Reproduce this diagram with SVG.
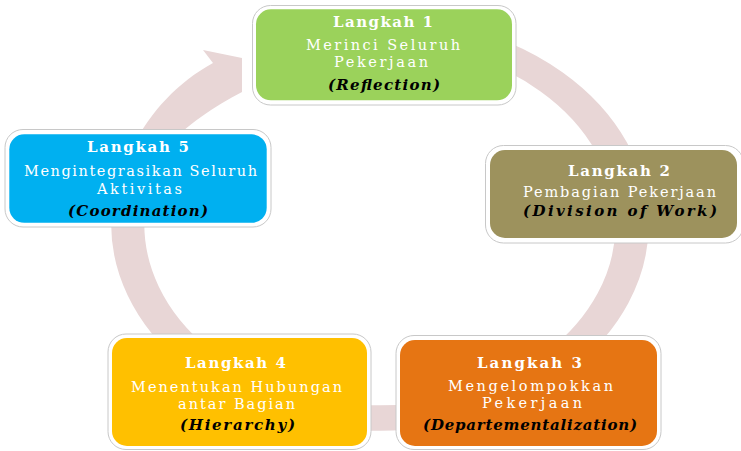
<svg xmlns="http://www.w3.org/2000/svg" width="741" height="451" viewBox="0 0 741 451">
  <style>
    .frame { fill: #ffffff; stroke: #c8c8c8; stroke-width: 1; }
    .head { font-family: "DejaVu Serif", "Liberation Serif", serif; font-weight: bold; font-size: 15px; fill: #ffffff; }
    .desc { font-family: "DejaVu Serif", "Liberation Serif", serif; font-size: 14.5px; fill: #ffffff; }
    .term { font-family: "DejaVu Serif", "Liberation Serif", serif; font-weight: bold; font-style: italic; font-size: 15px; fill: #000000; }
    .ring { fill: none; stroke: #e8d6d6; stroke-width: 25.5; }
  </style>
  <rect width="741" height="451" fill="#ffffff"/>

  <!-- circular arrow behind the steps -->
  <g id="connectors">
    <g transform="translate(380,224) scale(1.3,1)">
      <path class="ring" d="M 69.2 -181.2 A 194 194 0 1 1 -174.9 -84"/>
    </g>
    <path fill="#e8d6d6" d="M132,148 C150,112 178,82 213,63 L203,50 L242,58 L242,92 C215,106 185,126 166,148 Z"/>
  </g>

  <g id="step1">
    <rect class="frame" x="252.5" y="5.5" width="263.5" height="99.5" rx="18"/>
    <rect x="256" y="9.3" width="256" height="91" rx="15" fill="#9bd25b"/>
    <text class="head" x="333" y="26.5" textLength="100" lengthAdjust="spacing">Langkah 1</text>
    <text class="desc" x="306" y="49.5" textLength="154" lengthAdjust="spacing">Merinci  Seluruh</text>
    <text class="desc" x="334" y="67" textLength="94" lengthAdjust="spacing">Pekerjaan</text>
    <text class="term" x="328" y="90" textLength="112" lengthAdjust="spacing">(Reflection)</text>
  </g>

  <g id="step2">
    <rect class="frame" x="485.5" y="145.5" width="258" height="97.5" rx="18"/>
    <rect x="490" y="150" width="247" height="88" rx="15" fill="#9d925d"/>
    <text class="head" x="568" y="176" textLength="102" lengthAdjust="spacing">Langkah 2</text>
    <text class="desc" x="523" y="196.5" textLength="193" lengthAdjust="spacing">Pembagian Pekerjaan</text>
    <text class="term" x="523" y="216" textLength="194" lengthAdjust="spacing">(Division of Work)</text>
  </g>

  <g id="step3">
    <rect class="frame" x="396" y="335.5" width="265" height="114" rx="18"/>
    <rect x="400" y="340" width="257" height="106" rx="15" fill="#e67513"/>
    <text class="head" x="477" y="367.5" textLength="105" lengthAdjust="spacing">Langkah 3</text>
    <text class="desc" x="448" y="390.5" textLength="165" lengthAdjust="spacing">Mengelompokkan</text>
    <text class="desc" x="482" y="408" textLength="100" lengthAdjust="spacing">Pekerjaan</text>
    <text class="term" x="423" y="430" textLength="214" lengthAdjust="spacing">(Departementalization)</text>
  </g>

  <g id="step4">
    <rect class="frame" x="108" y="334" width="263" height="115.5" rx="18"/>
    <rect x="112" y="338" width="255" height="108" rx="15" fill="#ffc000"/>
    <text class="head" x="185" y="367.5" textLength="101" lengthAdjust="spacing">Langkah 4</text>
    <text class="desc" x="131" y="391.5" textLength="211" lengthAdjust="spacing">Menentukan Hubungan</text>
    <text class="desc" x="178" y="409" textLength="117" lengthAdjust="spacing">antar Bagian</text>
    <text class="term" x="180" y="430" textLength="115" lengthAdjust="spacing">(Hierarchy)</text>
  </g>

  <g id="step5">
    <rect class="frame" x="5" y="129.5" width="266" height="97.5" rx="18"/>
    <rect x="9.3" y="134.3" width="257.4" height="88.5" rx="15" fill="#00b0f0"/>
    <text class="head" x="87" y="151.5" textLength="102" lengthAdjust="spacing">Langkah 5</text>
    <text class="desc" x="24" y="176" textLength="233" lengthAdjust="spacing">Mengintegrasikan Seluruh</text>
    <text class="desc" x="97" y="193.5" textLength="85" lengthAdjust="spacing">Aktivitas</text>
    <text class="term" x="68" y="215.5" textLength="140" lengthAdjust="spacing">(Coordination)</text>
  </g>
</svg>
